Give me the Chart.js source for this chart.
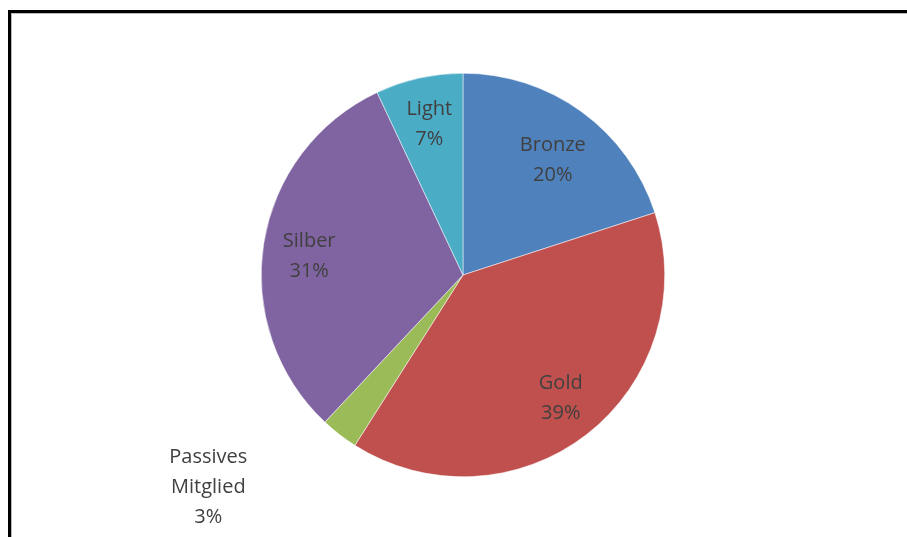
<!DOCTYPE html>
<html>
<head>
<meta charset="utf-8">
<script src="https://cdn.jsdelivr.net/npm/chart.js@4/dist/chart.umd.min.js"></script>
<style>
  html, body { margin: 0; padding: 0; background: #fff; overflow: hidden; }
  .frame { position: absolute; left: 8px; top: 10px; width: 1000px; height: 600px;
           border-top: 3px solid #000; border-left: 3px solid #000; box-shadow: inset 1px 1px 0 #bbb; }
  .wrap { position: absolute; left: 0; top: 0; width: 907px; height: 537px; }
</style>
</head>
<body>
<div class="frame"></div>
<div class="wrap"><canvas id="chart" width="907" height="537"></canvas></div>
<script>
// Mitgliedschaften — Anteile je Kategorie
const labels = ["Bronze", "Gold", "Passives Mitglied", "Silber", "Light"];
const values = [20, 39, 3, 31, 7];
const colors = ["#4f81bd", "#c0504d", "#9bbb59", "#8064a2", "#4bacc6"];

// label placement per slice: [radius factor, angle shift in degrees, name lines]
const labelPlace = [
  [0.723, 2, ["Bronze"]],
  [0.78, -0.6, ["Gold"]],
  [1.643, 12.4, ["Passives", "Mitglied"]],
  [0.768, -2.1, ["Silber"]],
  [0.766, 0, ["Light"]],
];

const sliceLabels = {
  id: "sliceLabels",
  afterDatasetsDraw(chart) {
    const { ctx } = chart;
    const meta = chart.getDatasetMeta(0);
    const total = values.reduce((a, b) => a + b, 0);
    ctx.save();
    ctx.font = '20px "Open Sans", sans-serif';
    ctx.fillStyle = "#404040";
    ctx.textAlign = "center";
    ctx.textBaseline = "middle";
    meta.data.forEach((arc, i) => {
      const [f, shift, nameLines] = labelPlace[i];
      const mid = (arc.startAngle + arc.endAngle) / 2 + (shift * Math.PI) / 180;
      const r = arc.outerRadius * f;
      const x = arc.x + Math.cos(mid) * r;
      const y = arc.y + Math.sin(mid) * r;
      const lines = [...nameLines, Math.round((values[i] / total) * 100) + "%"];
      const lh = 30;
      const y0 = y - ((lines.length - 1) * lh) / 2;
      lines.forEach((t, k) => ctx.fillText(t, x, y0 + k * lh));
    });
    ctx.restore();
  },
};

new Chart(document.getElementById("chart"), {
  type: "pie",
  data: {
    labels,
    datasets: [{ data: values, backgroundColor: colors, borderColor: "#ffffff", borderWidth: 0.5 }],
  },
  options: {
    responsive: false,
    animation: false,
    layout: { padding: { left: 19, right: 0, top: 73, bottom: 60 } },
    plugins: { legend: { display: false }, tooltip: { enabled: false } },
  },
  plugins: [sliceLabels],
});
</script>
</body>
</html>
